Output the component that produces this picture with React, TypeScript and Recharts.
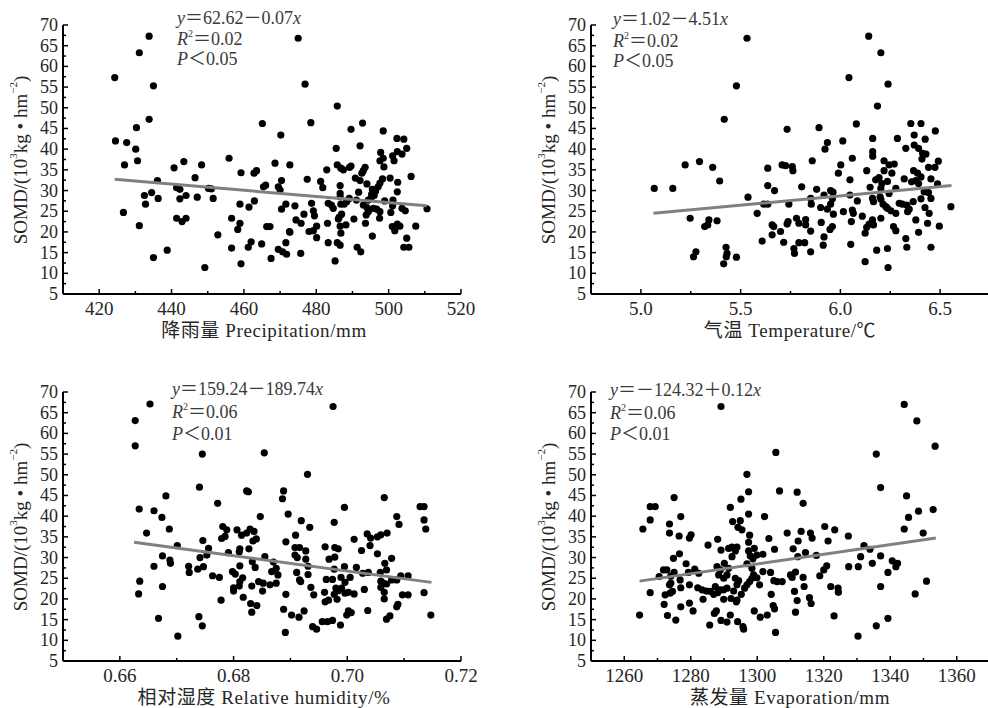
import React from "react";
import { ScatterChart, Scatter, XAxis, YAxis } from "recharts";

type Pt = [number, number];

// SOMD (10^3 kg/hm2) against each climate factor
const precipitationPoints: Pt[] = [
  [433.8, 67.3], [431.1, 63.3], [424.3, 57.3], [435.0, 55.3], [433.8, 47.2], [430.3, 45.2], [424.5, 42.0], [427.6, 41.6],
  [430.1, 40.0], [430.6, 37.2], [427.0, 36.2], [465.1, 46.2], [470.2, 43.4], [455.9, 37.8], [443.4, 37.0], [440.7, 35.5],
  [448.3, 36.2], [446.5, 33.1], [459.2, 34.3], [462.8, 34.2], [463.5, 34.8], [468.6, 36.6], [436.1, 32.4], [441.4, 30.7],
  [442.3, 30.3], [434.5, 29.5], [432.5, 28.8], [436.3, 28.1], [432.8, 26.7], [442.3, 28.0], [444.0, 28.8], [447.1, 28.4],
  [450.2, 30.5], [451.0, 30.4], [451.5, 28.1], [465.4, 30.9], [466.0, 31.3], [469.5, 30.9], [470.4, 32.4], [470.0, 30.1],
  [458.9, 26.7], [461.4, 26.0], [462.9, 27.5], [470.4, 25.5], [471.6, 26.7], [426.7, 24.7], [431.1, 21.5], [441.4, 23.3],
  [442.9, 22.5], [444.0, 23.3], [456.6, 23.3], [458.9, 22.1], [458.3, 20.6], [466.3, 21.3], [467.2, 21.3], [472.6, 20.1],
  [452.8, 19.3], [462.0, 17.6], [461.2, 16.3], [464.9, 17.1], [471.6, 17.4], [456.6, 16.1], [469.5, 15.8], [470.7, 15.2],
  [471.8, 14.6], [438.8, 15.6], [435.0, 13.8], [467.5, 13.6], [459.2, 12.3], [449.2, 11.4],
  [475.0, 66.8], [476.9, 55.7], [485.8, 50.4], [478.5, 46.4], [492.8, 46.3], [489.6, 44.8], [498.5, 44.4], [502.3, 42.6],
  [504.2, 42.4], [505.0, 40.2], [492.1, 40.8], [485.5, 40.2], [497.8, 39.2], [501.1, 38.4], [502.4, 39.4], [503.7, 38.8],
  [497.6, 37.2], [498.5, 37.8], [501.5, 37.2], [498.7, 35.7], [472.7, 36.2], [485.8, 36.2], [486.8, 35.4], [487.5, 35.0],
  [489.6, 35.9], [489.2, 35.6], [493.5, 35.6], [493.0, 34.8], [492.6, 34.2], [482.9, 35.0], [490.8, 33.0], [492.1, 32.4],
  [477.5, 32.7], [481.2, 32.2], [481.8, 30.7], [486.6, 31.2], [494.0, 31.6], [498.3, 32.8], [497.6, 31.8], [497.1, 30.9],
  [500.4, 33.0], [502.5, 32.0], [506.2, 33.4], [495.5, 30.3], [496.4, 29.9], [495.3, 29.1], [496.0, 28.8], [502.4, 29.7],
  [486.6, 29.3], [486.6, 28.5], [491.7, 29.6], [489.1, 28.1], [488.4, 27.3], [487.7, 26.7], [486.8, 26.7], [491.1, 27.7],
  [494.4, 27.7], [495.1, 28.1], [498.9, 27.5], [501.2, 27.7], [474.1, 26.3], [478.7, 26.9], [483.3, 26.9], [484.2, 26.5],
  [484.7, 25.7], [493.0, 26.5], [494.0, 25.9], [494.4, 24.9], [493.8, 24.1], [495.8, 25.7], [496.7, 25.5], [497.6, 24.9],
  [497.5, 23.3], [500.6, 24.7], [501.1, 26.3], [503.7, 25.7], [504.6, 25.1], [476.6, 24.3], [479.5, 23.9], [479.2, 25.1],
  [487.0, 24.3], [486.3, 23.5], [486.1, 23.1], [490.4, 23.1], [493.6, 22.1], [474.4, 22.9], [475.8, 22.1], [483.1, 22.1],
  [488.2, 21.7], [486.6, 21.4], [480.1, 21.4], [479.2, 20.3], [478.0, 20.1], [472.7, 19.9], [501.0, 21.3], [501.7, 20.3],
  [502.4, 21.9], [503.1, 21.4], [507.5, 21.4], [486.8, 19.7], [480.1, 18.6], [495.5, 19.0], [505.0, 18.5], [483.3, 17.4],
  [485.8, 17.4], [486.6, 16.8], [491.3, 16.3], [492.3, 15.2], [504.2, 16.3], [505.6, 16.3], [475.7, 14.8], [485.2, 13.0],
  [510.6, 25.6],
];

const temperaturePoints: Pt[] = [
  [5.532, 66.8], [5.479, 55.3], [5.418, 47.2], [5.733, 44.8], [5.222, 36.2], [5.294, 37.0], [5.36, 35.6], [5.708, 36.2],
  [5.725, 36.0], [5.636, 35.4], [5.067, 30.5], [5.16, 30.5], [5.395, 32.3], [5.636, 31.2], [5.67, 30.0], [5.537, 28.4],
  [5.616, 26.7], [5.636, 26.7], [5.742, 26.7], [5.583, 24.5], [5.247, 23.3], [5.341, 22.9], [5.335, 21.7], [5.32, 21.3],
  [5.382, 22.7], [5.658, 21.7], [5.666, 21.3], [5.738, 22.5], [5.733, 21.9], [5.7, 20.1], [5.658, 19.3], [5.608, 17.8],
  [5.716, 17.5], [5.276, 15.2], [5.264, 14.0], [5.427, 16.3], [5.432, 14.8], [5.428, 14.0], [5.415, 12.3], [5.479, 13.9],
  [6.142, 67.3], [6.203, 63.3], [6.043, 57.3], [6.239, 55.7], [6.186, 50.4], [6.08, 46.1], [6.353, 46.2], [6.404, 46.2],
  [5.893, 45.2], [6.476, 44.4], [6.37, 43.4], [6.425, 42.4], [6.286, 42.6], [6.162, 42.6], [6.012, 42.0], [5.935, 41.6],
  [5.923, 40.0], [6.37, 41.0], [6.392, 40.2], [6.328, 40.2], [6.412, 39.0], [6.429, 38.8], [6.162, 39.4], [6.162, 38.3],
  [6.06, 37.8], [5.859, 37.2], [6.219, 37.2], [6.244, 36.2], [6.27, 36.4], [6.409, 37.6], [6.491, 37.1], [6.474, 35.6],
  [6.442, 35.6], [5.759, 35.8], [5.762, 34.8], [6.002, 36.2], [5.99, 34.2], [6.132, 34.8], [6.219, 34.8], [6.258, 34.2],
  [6.367, 34.8], [6.387, 34.2], [6.404, 33.3], [6.048, 32.6], [6.177, 32.6], [6.194, 33.1], [6.208, 31.7], [6.236, 32.2],
  [6.203, 30.5], [6.32, 32.8], [6.454, 32.8], [6.357, 32.1], [6.378, 32.4], [6.392, 31.7], [6.487, 31.6], [5.806, 30.9],
  [5.881, 30.3], [5.951, 30.0], [5.963, 29.6], [5.918, 28.9], [6.149, 30.8], [6.278, 30.5], [6.048, 28.9], [5.851, 28.1],
  [5.854, 26.7], [5.96, 28.0], [5.951, 26.7], [6.085, 27.5], [6.161, 28.1], [6.166, 27.3], [6.199, 28.5], [6.203, 27.9],
  [6.214, 26.7], [6.228, 26.1], [6.244, 29.3], [6.295, 26.9], [6.311, 26.7], [6.333, 26.5], [6.345, 25.5], [6.337, 24.9],
  [6.365, 27.3], [6.404, 28.0], [6.42, 29.7], [6.442, 29.5], [6.454, 28.1], [6.424, 25.9], [6.554, 26.1], [5.901, 25.9],
  [5.935, 25.5], [5.965, 24.3], [6.015, 24.9], [6.06, 25.3], [6.065, 24.5], [6.236, 25.7], [6.253, 25.1], [6.278, 24.5],
  [6.445, 24.5], [6.11, 23.8], [6.161, 22.9], [6.144, 21.9], [6.166, 21.7], [6.132, 21.1], [6.203, 23.3], [6.378, 22.9],
  [6.437, 22.1], [6.496, 21.4], [5.78, 23.3], [5.826, 23.0], [5.792, 22.1], [5.826, 21.7], [5.851, 20.2], [5.904, 22.3],
  [5.96, 21.3], [5.948, 20.6], [6.055, 22.5], [6.266, 21.3], [6.278, 20.3], [6.392, 19.9], [5.918, 18.8], [6.124, 19.7],
  [5.767, 16.0], [5.77, 14.8], [5.792, 17.4], [5.821, 17.4], [5.851, 15.2], [5.914, 16.8], [6.052, 17.0], [6.328, 18.4],
  [6.333, 16.3], [6.454, 16.3], [6.182, 15.6], [6.236, 16.0], [6.124, 12.8], [6.239, 11.4],
];

const humidityPoints: Pt[] = [
  [0.6653, 67.1], [0.6627, 63.1], [0.6627, 57.0], [0.6745, 55.0], [0.6854, 55.3], [0.674, 47.0], [0.6823, 46.1], [0.6826, 45.9],
  [0.6888, 46.1], [0.6886, 44.2], [0.6681, 44.9], [0.6772, 43.1], [0.6634, 41.7], [0.666, 41.3], [0.6674, 39.7], [0.6847, 39.9],
  [0.6896, 40.5], [0.6687, 36.9], [0.6647, 35.9], [0.6781, 37.5], [0.6788, 36.7], [0.6779, 34.6], [0.6785, 35.1], [0.6806, 36.7],
  [0.6814, 35.4], [0.6823, 35.9], [0.6829, 36.9], [0.6836, 36.3], [0.684, 34.5], [0.6834, 34.0], [0.6811, 32.1], [0.681, 31.4],
  [0.6827, 32.1], [0.6892, 33.8], [0.6701, 32.9], [0.6746, 34.1], [0.6741, 30.0], [0.6756, 32.2], [0.6753, 30.6], [0.6675, 30.4],
  [0.6688, 29.4], [0.6689, 28.6], [0.666, 27.9], [0.6721, 27.9], [0.6722, 26.4], [0.6737, 27.2], [0.6747, 27.8], [0.6791, 31.2],
  [0.6855, 30.2], [0.6833, 29.0], [0.6838, 27.6], [0.6811, 28.0], [0.6763, 25.6], [0.6775, 25.2], [0.6798, 26.6], [0.6803, 26.0],
  [0.687, 28.9], [0.6875, 27.4], [0.6867, 26.6], [0.6878, 25.8], [0.6816, 25.1], [0.6811, 24.2], [0.681, 23.1], [0.68, 22.7],
  [0.68, 21.9], [0.6844, 24.2], [0.6852, 23.8], [0.6832, 23.1], [0.6851, 21.9], [0.6864, 23.4], [0.6875, 23.8], [0.6635, 24.3],
  [0.6633, 21.2], [0.6675, 23.0], [0.6778, 19.7], [0.6817, 20.4], [0.683, 18.9], [0.6841, 18.4], [0.6832, 16.8], [0.6892, 21.1],
  [0.6888, 17.5], [0.6668, 15.3], [0.6739, 15.7], [0.6745, 13.5], [0.6702, 11.0], [0.6891, 11.9],
  [0.6975, 66.5], [0.693, 50.1], [0.7065, 44.5], [0.7128, 42.3], [0.7135, 42.3], [0.7135, 39.1], [0.7138, 36.9], [0.6995, 42.1],
  [0.6919, 38.9], [0.6934, 37.3], [0.6977, 38.5], [0.7087, 39.9], [0.7091, 38.0], [0.6909, 35.4], [0.6908, 32.4], [0.6916, 32.4],
  [0.6908, 30.6], [0.6912, 30.0], [0.6927, 31.6], [0.6927, 29.6], [0.7012, 34.4], [0.7035, 35.7], [0.7041, 34.7], [0.7053, 35.0],
  [0.7059, 35.5], [0.707, 35.9], [0.7025, 31.7], [0.704, 32.9], [0.6961, 32.6], [0.6978, 32.4], [0.6984, 32.1], [0.6968, 29.6],
  [0.6978, 30.1], [0.7053, 30.9], [0.7078, 29.8], [0.7066, 28.6], [0.7069, 27.0], [0.6911, 26.4], [0.6916, 24.6], [0.6918, 24.2],
  [0.6931, 27.9], [0.6931, 25.9], [0.6977, 27.2], [0.6995, 27.8], [0.7016, 27.6], [0.7027, 26.2], [0.7037, 26.4], [0.7058, 26.4],
  [0.6963, 24.7], [0.6974, 24.7], [0.6989, 25.2], [0.6996, 24.0], [0.7005, 25.2], [0.7059, 24.3], [0.7063, 23.8], [0.7069, 23.6],
  [0.7078, 24.6], [0.7087, 24.6], [0.7094, 25.6], [0.7107, 25.6], [0.6936, 22.8], [0.696, 21.6], [0.6961, 19.3], [0.6967, 19.7],
  [0.6977, 21.1], [0.698, 22.6], [0.6984, 22.0], [0.699, 22.6], [0.6996, 21.4], [0.7002, 21.6], [0.7012, 21.2], [0.703, 22.3],
  [0.7059, 22.8], [0.7065, 21.6], [0.7065, 20.0], [0.7097, 21.0], [0.7107, 21.0], [0.7135, 21.5], [0.6941, 21.0], [0.6902, 16.1],
  [0.6915, 15.6], [0.6924, 17.1], [0.6982, 19.9], [0.7002, 17.1], [0.6999, 16.1], [0.7007, 16.7], [0.7036, 17.2], [0.7089, 18.7],
  [0.7087, 18.1], [0.7069, 15.1], [0.7075, 15.9], [0.7147, 16.1], [0.6956, 14.5], [0.6965, 14.5], [0.6974, 14.8], [0.6939, 13.3],
  [0.6946, 12.7], [0.6988, 13.7],
];

const evaporationPoints: Pt[] = [
  [1289.1, 66.5], [1305.6, 55.4], [1296.9, 50.1], [1297.4, 45.9], [1306.7, 46.1], [1295.1, 44.1], [1291.9, 42.1], [1275.0, 44.5],
  [1267.8, 42.3], [1269.3, 42.3], [1267.8, 39.1], [1265.6, 36.9], [1273.6, 38.1], [1273.6, 35.9], [1277.0, 39.9], [1276.5, 35.2],
  [1280.1, 35.5], [1279.6, 34.7], [1302.2, 39.9], [1292.6, 38.7], [1294.9, 38.9], [1294.2, 37.3], [1295.4, 36.7], [1297.4, 40.5],
  [1297.7, 35.4], [1297.4, 33.7], [1303.5, 34.6], [1309.0, 35.9], [1288.1, 34.4], [1285.2, 33.0], [1289.1, 31.8], [1291.4, 32.2],
  [1292.4, 32.5], [1293.9, 32.5], [1293.4, 31.6], [1292.4, 30.2], [1297.4, 31.6], [1299.1, 32.2], [1297.9, 30.4], [1298.7, 29.7],
  [1299.9, 30.6], [1301.7, 30.8], [1305.2, 32.0], [1274.8, 29.8], [1276.6, 30.9], [1278.6, 28.5], [1272.8, 27.0], [1275.0, 26.4],
  [1274.0, 25.5], [1276.8, 24.6], [1279.3, 26.4], [1281.2, 27.2], [1287.9, 27.8], [1288.4, 25.8], [1288.9, 27.0], [1290.1, 28.6],
  [1291.4, 27.4], [1290.9, 25.8], [1289.9, 25.0], [1293.4, 25.0], [1294.4, 24.4], [1293.9, 23.4], [1296.9, 28.5], [1298.4, 27.4],
  [1298.9, 25.8], [1299.9, 25.1], [1298.4, 25.0], [1301.7, 26.6], [1304.0, 26.4], [1270.5, 25.4], [1271.8, 27.0], [1282.4, 26.2],
  [1277.0, 22.7], [1273.6, 23.4], [1274.0, 23.8], [1274.5, 21.8], [1272.3, 21.0], [1273.8, 21.4], [1267.8, 21.5], [1279.6, 23.4],
  [1282.1, 22.7], [1283.4, 22.2], [1284.7, 21.9], [1285.9, 21.8], [1286.9, 21.1], [1288.1, 21.5], [1288.9, 22.2], [1287.4, 23.0],
  [1289.9, 22.2], [1290.9, 22.6], [1292.9, 21.9], [1295.2, 21.1], [1296.2, 22.6], [1296.9, 23.4], [1297.7, 24.2], [1300.7, 23.4],
  [1304.2, 21.1], [1305.0, 24.4], [1306.0, 24.2], [1307.5, 24.2], [1310.0, 25.8], [1289.9, 19.9], [1292.1, 20.1], [1293.7, 19.3],
  [1293.9, 19.7], [1283.7, 19.9], [1279.6, 19.0], [1277.0, 18.1], [1272.0, 18.7], [1264.6, 16.1], [1273.0, 16.0], [1275.5, 14.9],
  [1280.7, 17.1], [1287.7, 17.1], [1287.1, 16.5], [1289.1, 14.8], [1290.9, 14.4], [1291.9, 16.1], [1294.1, 14.5], [1295.7, 13.3],
  [1295.9, 12.7], [1285.7, 13.7], [1299.1, 17.1], [1300.9, 15.6], [1303.0, 16.1], [1304.8, 18.4], [1305.2, 17.6], [1305.5, 11.9],
  [1344.2, 67.0], [1348.0, 63.0], [1353.5, 56.9], [1335.8, 55.0], [1337.1, 46.9], [1312.0, 45.8], [1313.8, 43.1], [1344.9, 44.9],
  [1345.5, 39.7], [1348.5, 41.2], [1352.9, 41.6], [1344.2, 36.9], [1349.9, 35.9], [1313.2, 36.3], [1316.0, 35.9], [1316.5, 34.7],
  [1320.3, 37.5], [1323.3, 36.7], [1321.3, 34.0], [1327.4, 35.2], [1312.3, 34.0], [1310.8, 32.1], [1314.5, 31.2], [1312.2, 30.2],
  [1317.8, 30.5], [1332.1, 32.9], [1333.9, 32.0], [1331.1, 30.2], [1337.1, 30.4], [1334.6, 28.6], [1340.6, 29.2], [1342.2, 28.6],
  [1341.7, 27.8], [1339.3, 26.4], [1320.9, 28.0], [1320.0, 27.0], [1327.5, 27.8], [1330.4, 27.8], [1318.8, 25.6], [1311.5, 26.5],
  [1310.5, 25.2], [1313.8, 25.2], [1314.1, 23.0], [1311.2, 21.8], [1312.0, 19.6], [1315.7, 20.3], [1316.2, 18.9], [1311.5, 16.8],
  [1322.1, 23.0], [1324.3, 22.6], [1324.4, 21.6], [1337.1, 23.0], [1350.9, 24.3], [1347.5, 21.2], [1323.1, 15.9], [1330.3, 11.0],
  [1335.8, 13.5], [1339.3, 15.3],
];

// fitted lines, end points as drawn
const precipitationFit: Pt[] = [[424.3, 32.7], [510.5, 26.3]];
const temperatureFit: Pt[] = [[5.063, 24.5], [6.557, 31.2]];
const humidityFit: Pt[] = [[0.6625, 33.7], [0.7148, 24.0]];
const evaporationFit: Pt[] = [[1264.6, 24.3], [1353.7, 34.7]];

const somdTicks = [5, 7.5, 10, 12.5, 15, 17.5, 20, 22.5, 25, 27.5, 30, 32.5, 35, 37.5, 40, 42.5, 45, 47.5, 50, 52.5, 55, 57.5, 60, 62.5, 65, 67.5, 70];
const somdLabels = [5, 10, 15, 20, 25, 30, 35, 40, 45, 50, 55, 60, 65, 70];

const precipitationTicks = [410, 420, 430, 440, 450, 460, 470, 480, 490, 500, 510, 520];
const precipitationLabels = [420, 440, 460, 480, 500, 520];
const temperatureTicks = [4.75, 5, 5.25, 5.5, 5.75, 6, 6.25, 6.5, 6.75];
const temperatureLabels = [5, 5.5, 6, 6.5];
const humidityTicks = [0.65, 0.66, 0.67, 0.68, 0.69, 0.7, 0.71, 0.72];
const humidityLabels = [0.66, 0.68, 0.7, 0.72];
const evaporationTicks = [1250, 1260, 1270, 1280, 1290, 1300, 1310, 1320, 1330, 1340, 1350, 1360, 1370];
const evaporationLabels = [1260, 1280, 1300, 1320, 1340, 1360];

const FONT = '"Liberation Serif", "Times New Roman", "Noto Sans CJK SC", serif';
const INK = "#262626";

function XTick(props: any) {
  const { x, y, payload, labels, digits } = props;
  const v = payload.value as number;
  const major = labels.some((l: number) => Math.abs(l - v) < 1e-9);
  return (
    <g>
      <line x1={x} x2={x} y1={y} y2={y - (major ? 5 : 3)} stroke="#000" strokeWidth={1.5} />
      {major && (
        <text x={x} y={y + 14} textAnchor="middle" dominantBaseline="central" fontFamily={FONT} fontSize={19} fill={INK}>
          {v.toFixed(digits)}
        </text>
      )}
    </g>
  );
}

function YTick(props: any) {
  const { x, y, payload } = props;
  const v = payload.value as number;
  const major = somdLabels.includes(v);
  return (
    <g>
      <line x1={x} x2={x + (major ? 5 : 3)} y1={y} y2={y} stroke="#000" strokeWidth={1.5} />
      {major && (
        <text x={x - 5} y={y} textAnchor="end" dominantBaseline="central" fontFamily={FONT} fontSize={18} fill={INK}>
          {v}
        </text>
      )}
    </g>
  );
}

const Dot = (props: any) => <circle cx={props.cx} cy={props.cy} r={3.6} fill="#000" />;
const NoDot = () => <g />;

type PanelProps = {
  left: number;
  top: number;
  width: number;
  margin: { top: number; right: number; bottom: number; left: number };
  yAxisWidth: number;
  xAxisHeight: number;
  points: Pt[];
  fit: Pt[];
  xDomain: [number, number];
  xTicks: number[];
  xLabels: number[];
  digits: number;
};

function Panel(p: PanelProps) {
  const data = p.points.map(([x, y]) => ({ x, y }));
  const fit = p.fit.map(([x, y]) => ({ x, y }));
  return (
    <div style={{ position: "absolute", left: p.left, top: p.top }}>
      <ScatterChart width={p.width} height={354} margin={p.margin}>
        <XAxis
          type="number"
          dataKey="x"
          domain={p.xDomain}
          ticks={p.xTicks}
          interval={0}
          allowDataOverflow
          height={p.xAxisHeight}
          tickSize={0}
          tickMargin={0}
          tickLine={false}
          axisLine={{ stroke: "#000", strokeWidth: 2 }}
          tick={<XTick labels={p.xLabels} digits={p.digits} />}
        />
        <YAxis
          type="number"
          dataKey="y"
          domain={[5, 70]}
          ticks={somdTicks}
          interval={0}
          allowDataOverflow
          width={p.yAxisWidth}
          tickSize={0}
          tickMargin={0}
          tickLine={false}
          axisLine={{ stroke: "#000", strokeWidth: 2 }}
          tick={<YTick />}
        />
        <Scatter data={data} shape={Dot} isAnimationActive={false} />
        <Scatter data={fit} shape={NoDot} line={{ stroke: "#808080", strokeWidth: 3 }} isAnimationActive={false} />
      </ScatterChart>
    </div>
  );
}

function Equation({ x, ys, body, r2, p }: { x: number; ys: number[]; body: string; r2: string; p: string }) {
  const common = { fontFamily: FONT, fontSize: 18, fill: "#3a3a3a", dominantBaseline: "central" as const };
  return (
    <g>
      <text x={x} y={ys[0]} {...common}>
        <tspan fontStyle="italic">y</tspan>
        {body}
        <tspan fontStyle="italic">x</tspan>
      </text>
      <text x={x} y={ys[1]} {...common}>
        <tspan fontStyle="italic">R</tspan>
        <tspan fontSize={10} dy={-6}>2</tspan>
        <tspan dy={6}>＝{r2}</tspan>
      </text>
      <text x={x} y={ys[2]} {...common}>
        <tspan fontStyle="italic">P</tspan>＜{p}
      </text>
    </g>
  );
}

function YTitle({ x, y }: { x: number; y: number }) {
  return (
    <text
      x={x}
      y={y}
      transform={`rotate(-90 ${x} ${y})`}
      textAnchor="middle"
      dominantBaseline="central"
      fontFamily={FONT}
      fontSize={19}
      fill={INK}
    >
      SOMD/(10<tspan fontSize={11} dy={-7}>3</tspan>
      <tspan dy={7}>kg • hm</tspan>
      <tspan fontSize={11} dy={-7}>−2</tspan>
      <tspan dy={7}>)</tspan>
    </text>
  );
}

function XTitle({ x, y, text }: { x: number; y: number; text: string }) {
  return (
    <text
      x={x}
      y={y}
      textAnchor="middle"
      dominantBaseline="central"
      fontFamily={FONT}
      fontSize={19}
      letterSpacing={0.6}
      fill={INK}
    >
      {text}
    </text>
  );
}

export default function App() {
  return (
    <div style={{ position: "absolute", left: 0, top: 0, width: 988, height: 708, overflow: "hidden", background: "#fff" }}>
      <Panel
        left={0}
        top={0}
        width={494}
        margin={{ top: 25, right: 33, bottom: 0, left: 0 }}
        yAxisWidth={63}
        xAxisHeight={60}
        points={precipitationPoints}
        fit={precipitationFit}
        xDomain={[410, 520]}
        xTicks={precipitationTicks}
        xLabels={precipitationLabels}
        digits={0}
      />
      <Panel
        left={494}
        top={0}
        width={500}
        margin={{ top: 25, right: 4, bottom: 0, left: 0 }}
        yAxisWidth={97}
        xAxisHeight={60}
        points={temperaturePoints}
        fit={temperatureFit}
        xDomain={[4.75, 6.75]}
        xTicks={temperatureTicks}
        xLabels={temperatureLabels}
        digits={1}
      />
      <Panel
        left={0}
        top={354}
        width={494}
        margin={{ top: 38, right: 33, bottom: 0, left: 0 }}
        yAxisWidth={63}
        xAxisHeight={47}
        points={humidityPoints}
        fit={humidityFit}
        xDomain={[0.65, 0.72]}
        xTicks={humidityTicks}
        xLabels={humidityLabels}
        digits={2}
      />
      <Panel
        left={494}
        top={354}
        width={500}
        margin={{ top: 38, right: 4, bottom: 0, left: 0 }}
        yAxisWidth={97}
        xAxisHeight={47}
        points={evaporationPoints}
        fit={evaporationFit}
        xDomain={[1250, 1370]}
        xTicks={evaporationTicks}
        xLabels={evaporationLabels}
        digits={0}
      />
      <svg width={988} height={708} style={{ position: "absolute", left: 0, top: 0, pointerEvents: "none" }}>
        <Equation x={177} ys={[18, 39, 59]} body="＝62.62－0.07" r2="0.02" p="0.05" />
        <Equation x={613} ys={[19, 41, 61]} body="＝1.02－4.51" r2="0.02" p="0.05" />
        <Equation x={172} ys={[389, 412, 434]} body="＝159.24－189.74" r2="0.06" p="0.01" />
        <Equation x={610} ys={[390, 413, 434]} body="＝－124.32＋0.12" r2="0.06" p="0.01" />
        <YTitle x={20} y={160} />
        <YTitle x={548} y={160} />
        <YTitle x={20} y={527} />
        <YTitle x={548} y={527} />
        <XTitle x={264} y={330} text="降雨量 Precipitation/mm" />
        <XTitle x={790} y={330} text="气温 Temperature/℃" />
        <XTitle x={264} y={697} text="相对湿度 Relative humidity/%" />
        <XTitle x={790} y={697} text="蒸发量 Evaporation/mm" />
      </svg>
    </div>
  );
}
